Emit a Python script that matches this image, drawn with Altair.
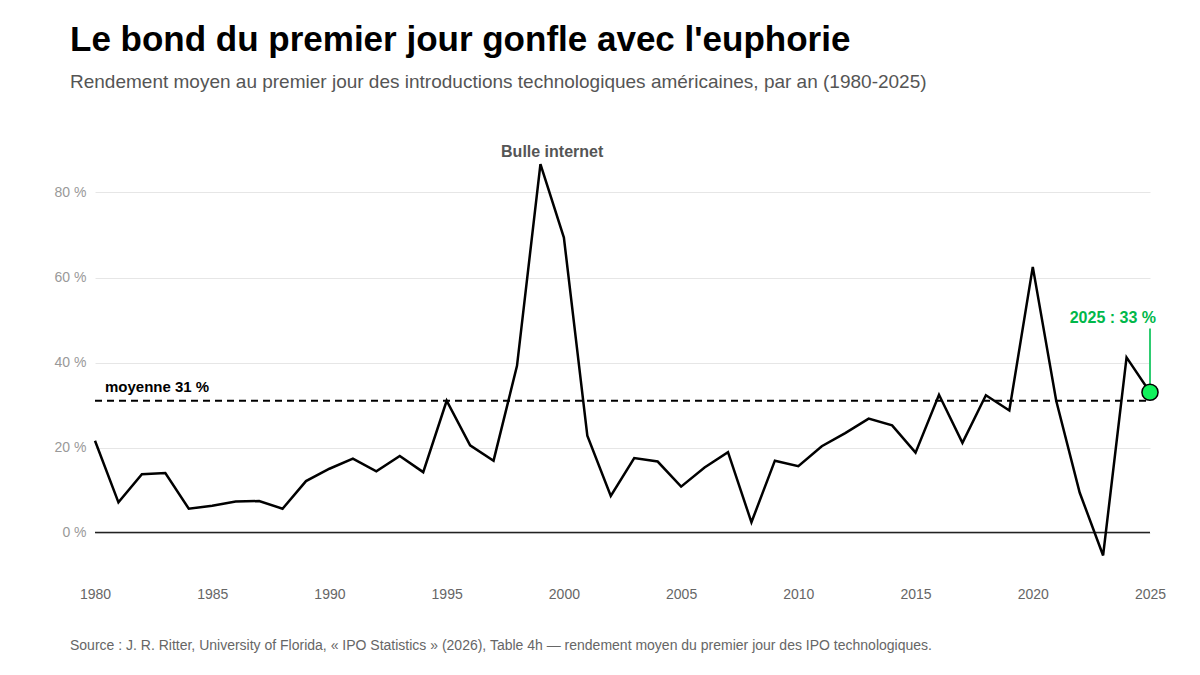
import altair as alt
import pandas as pd

FONT = "Liberation Sans, Arial, Helvetica, sans-serif"

# Average first-day return of US tech IPOs, by year (%)
years = list(range(1980, 2026))
returns = [
    21.6, 7.1, 13.7, 14.0, 5.6, 6.3, 7.3, 7.4, 5.6, 12.1,
    15.0, 17.4, 14.4, 18.0, 14.2, 31.0, 20.5, 16.9, 39.2, 86.7,
    69.4, 22.8, 8.6, 17.5, 16.7, 10.8, 15.3, 18.9, 2.4, 16.9,
    15.6, 20.3, 23.4, 26.8, 25.2, 18.8, 32.4, 21.1, 32.3, 28.7,
    62.5, 31.0, 9.4, -5.4, 41.2, 33.0,
]
mean_value = 31
year_ticks = [1980, 1985, 1990, 1995, 2000, 2005, 2010, 2015, 2020, 2025]
pct_ticks = [0, 20, 40, 60, 80]

title_text = "Le bond du premier jour gonfle avec l'euphorie"
subtitle_text = ("Rendement moyen au premier jour des introductions technologiques "
                 "américaines, par an (1980-2025)")
source_text = ("Source : J. R. Ritter, University of Florida, « IPO Statistics » (2026), "
               "Table 4h — rendement moyen du premier jour des IPO technologiques.")

df = pd.DataFrame({"year": years, "ret": returns})

W, H = 1055, 425
x_scale = alt.Scale(domain=[1980, 2025], nice=False, zero=False)
y_scale = alt.Scale(domain=[-10, 90], nice=False, zero=False)

x_enc = alt.X("year:Q", scale=x_scale, title=None,
              axis=alt.Axis(values=year_ticks, format="d", grid=False, domain=False,
                            ticks=False, labelPadding=12, labelFontSize=14,
                            labelFlush=False, labelOverlap=False,
                            labelColor="#666666", labelFont=FONT))
y_enc = alt.Y("ret:Q", scale=y_scale, title=None,
              axis=alt.Axis(values=pct_ticks, labelExpr="datum.value + ' %'",
                            grid=True, gridColor="#e6e6e6", gridWidth=1, domain=False,
                            ticks=False, labelPadding=9, labelFontSize=14,
                            labelColor="#999999", labelFont=FONT))

line = alt.Chart(df).mark_line(color="#000000", strokeWidth=2.5,
                               strokeJoin="miter").encode(x=x_enc, y=y_enc)

zero_df = pd.DataFrame({"year": [1980], "year2": [2025], "ret": [0]})
zero_rule = alt.Chart(zero_df).mark_rule(color="#222222", strokeWidth=1.5).encode(
    x=alt.X("year:Q", scale=x_scale), x2="year2:Q", y=alt.Y("ret:Q", scale=y_scale))

mean_df = pd.DataFrame({"year": [1980], "year2": [2025], "ret": [mean_value],
                        "label": [f"moyenne {mean_value} %"]})
mean_rule = alt.Chart(mean_df).mark_rule(color="#000000", strokeWidth=2,
                                         strokeDash=[7, 5]).encode(
    x=alt.X("year:Q", scale=x_scale), x2="year2:Q", y=alt.Y("ret:Q", scale=y_scale))
mean_label = alt.Chart(mean_df).mark_text(align="left", baseline="alphabetic", dx=10,
                                          dy=-9, fontSize=15, fontWeight="bold",
                                          color="#000000", font=FONT).encode(
    x=alt.X("year:Q", scale=x_scale), y=alt.Y("ret:Q", scale=y_scale), text="label:N")

bubble_df = pd.DataFrame({"year": [1999.5], "ret": [88.3], "label": ["Bulle internet"]})
bubble_label = alt.Chart(bubble_df).mark_text(align="center", baseline="alphabetic",
                                              fontSize=16, fontWeight="bold",
                                              color="#555555", font=FONT).encode(
    x=alt.X("year:Q", scale=x_scale), y=alt.Y("ret:Q", scale=y_scale), text="label:N")

last_year, last_val = years[-1], returns[-1]
last_df = pd.DataFrame({"year": [last_year], "ret": [last_val], "top": [48],
                        "label": [f"{last_year} : {last_val:.0f} %"]})
last_rule = alt.Chart(last_df).mark_rule(color="#2ecc71", strokeWidth=2).encode(
    x=alt.X("year:Q", scale=x_scale), y=alt.Y("ret:Q", scale=y_scale), y2="top:Q")
last_point = alt.Chart(last_df).mark_point(filled=True, fill="#11f25c", stroke="#000000",
                                           strokeWidth=1.5, size=260, opacity=1,
                                           shape="circle").encode(
    x=alt.X("year:Q", scale=x_scale), y=alt.Y("ret:Q", scale=y_scale))
last_label = alt.Chart(last_df).mark_text(align="right", baseline="alphabetic", dx=6,
                                          dy=-6, fontSize=16, fontWeight="bold",
                                          color="#00b84a", font=FONT).encode(
    x=alt.X("year:Q", scale=x_scale), y=alt.Y("top:Q", scale=y_scale), text="label:N")

# Headline, subtitle and source line, positioned relative to the plot frame
def header(text, x, y, size, weight, color):
    return alt.Chart(pd.DataFrame({"t": [text]})).mark_text(
        align="left", baseline="alphabetic", fontSize=size, fontWeight=weight,
        color=color, font=FONT).encode(x=alt.value(x), y=alt.value(y), text="t:N")

title = header(title_text, -25, 51 - 150, 35, "bold", "#000000")
subtitle = header(subtitle_text, -25, 88 - 150, 19, "normal", "#555555")
source = header(source_text, -25, 650 - 150, 14, "normal", "#666666")

chart = alt.layer(
    zero_rule, mean_rule, line, mean_label, bubble_label,
    last_rule, last_point, last_label, title, subtitle, source,
).properties(
    width=W, height=H,
    autosize=alt.AutoSizeParams(type="none"),
    padding={"left": 95, "top": 150, "right": 50, "bottom": 100},
    background="#ffffff",
).configure_view(stroke=None)

chart.save("out.html", embed_options={"renderer": "svg", "actions": False})
